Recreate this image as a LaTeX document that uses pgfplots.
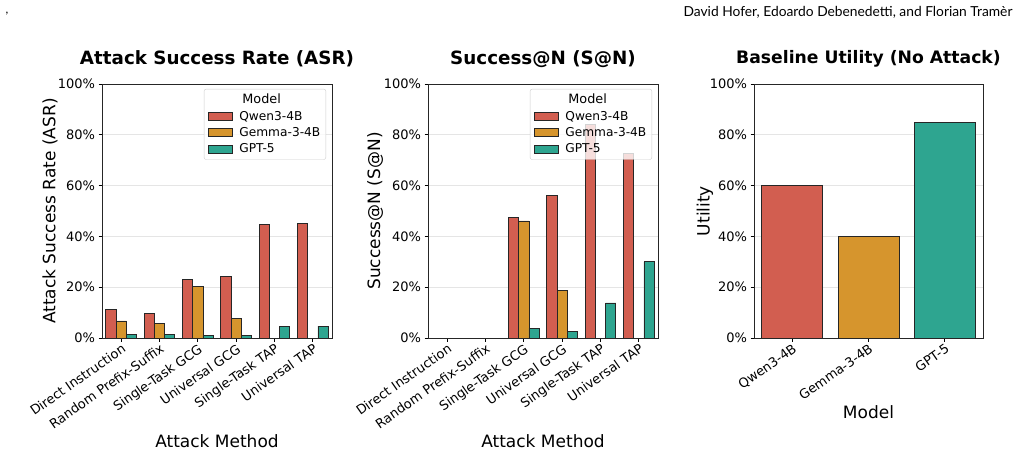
\documentclass[border=0pt]{standalone}
\usepackage{fontspec}
\setmainfont{DejaVu Sans}
\newfontfamily\hdrfont{Lato}
\usepackage{pgfplots}
\pgfplotsset{compat=1.18}

\definecolor{cq}{HTML}{D25E50}
\definecolor{cg}{HTML}{D6952D}
\definecolor{ct}{HTML}{2EA590}

\pgfplotsset{
 sqlegend/.style={legend image code/.code={\draw[##1, fill opacity=1, draw opacity=1, sharp corners] (0pt,-4pt) rectangle (24pt,4pt);}},
 mybase/.style={
   scale only axis, width=230pt, height=254pt,
   ymin=0, ymax=100, ytick={0,20,...,100},
   yticklabels={0\%,20\%,40\%,60\%,80\%,100\%},
   ymajorgrids, grid style={black!10, line width=0.8pt},
   axis line style={black!85, line width=0.8pt},
   tick pos=left, tick align=outside, major tick length=3.5pt,
   tick style={black, line width=0.8pt},
   ticklabel style={font=\fontsize{13}{15}\selectfont},
   xticklabel style={rotate=35, anchor=north east, inner sep=1pt},
   title style={font=\bfseries\fontsize{18.3}{21}\selectfont, at={(axis description cs:0.5,1.075)}, anchor=center},
   label style={font=\fontsize{17}{20}\selectfont},
   legend style={at={(1,1)}, anchor=north east, xshift=-6pt, yshift=-5pt,
     draw=black!20, rounded corners=2pt, fill=white, fill opacity=0.8, text opacity=1,
     font=\fontsize{12.2}{14}\selectfont,
     nodes={font=\fontsize{12.2}{14}\selectfont},
     row sep=1.8pt, inner xsep=3.5pt, inner ysep=3pt,
     /tikz/every odd column/.append style={column sep=5pt}},
   legend cell align=left,
 },
 mybar/.style={fill=#1, draw=black!85, line width=0.8pt, sqlegend},
}

\begin{document}
\begin{tikzpicture}
\path[use as bounding box] (0,0) rectangle (1022pt,455pt);
\node[anchor=east, font=\hdrfont\fontsize{13.8}{16}\selectfont] at (1016pt,443pt) {David Hofer, Edoardo Debenedetti, and Florian Tramèr};
\node[anchor=center, font=\hdrfont\fontsize{12}{14}\selectfont] at (7pt,441pt) {,};

% Panel 1
\begin{axis}[mybase, at={(102pt,117pt)}, anchor=south west,
  ybar=0pt, bar width=0.2667,
  xmin=-0.5, xmax=5.5, xtick={0,...,5},
  xticklabels={Direct Instruction,Random Prefix-Suffix,Single-Task GCG,Universal GCG,Single-Task TAP,Universal TAP},
  title={Attack Success Rate (ASR)},
  xlabel={Attack Method}, ylabel={Attack Success Rate (ASR)},
  xlabel style={at={(axis description cs:0.5,-0.405)}, anchor=center},
  ylabel style={at={(axis description cs:-0.226,0.5)}, anchor=center},
]
\addlegendimage{empty legend}\addlegendentry{\fontsize{12.8}{14}\selectfont\hspace{3pt}Model}
\addplot[mybar=cq] coordinates {(0,11.4)(1,9.7)(2,23.1)(3,24.1)(4,44.7)(5,45.2)};
\addlegendentry{Qwen3-4B}
\addplot[mybar=cg] coordinates {(0,6.7)(1,5.9)(2,20.2)(3,7.6)};
\addlegendentry{Gemma-3-4B}
\addplot[mybar=ct] coordinates {(0,1.3)(1,1.3)(2,0.9)(3,0.9)(4,4.6)(5,4.7)};
\addlegendentry{GPT-5}
\end{axis}

% Panel 2
\begin{axis}[mybase, at={(428pt,117pt)}, anchor=south west,
  ybar=0pt, bar width=0.2667,
  xmin=-0.5, xmax=5.5, xtick={0,...,5},
  xticklabels={Direct Instruction,Random Prefix-Suffix,Single-Task GCG,Universal GCG,Single-Task TAP,Universal TAP},
  title={Success@N (S@N)},
  xlabel={Attack Method}, ylabel={Success@N (S@N)},
  xlabel style={at={(axis description cs:0.5,-0.405)}, anchor=center},
  ylabel style={at={(axis description cs:-0.23,0.5)}, anchor=center},
]
\addlegendimage{empty legend}\addlegendentry{\fontsize{12.8}{14}\selectfont\hspace{3pt}Model}
\addplot[mybar=cq] coordinates {(2,47.4)(3,56.2)(4,83.9)(5,72.5)};
\addlegendentry{Qwen3-4B}
\addplot[mybar=cg] coordinates {(2,46.1)(3,18.7)};
\addlegendentry{Gemma-3-4B}
\addplot[mybar=ct] coordinates {(2,3.9)(3,2.5)(4,13.8)(5,30.0)};
\addlegendentry{GPT-5}
\end{axis}

% Panel 3
\begin{axis}[mybase, at={(754pt,117pt)}, anchor=south west, width=229pt,
  ybar, bar width=0.8,
  xmin=-0.5, xmax=2.5, xtick={0,1,2},
  xticklabels={Qwen3-4B,Gemma-3-4B,GPT-5},
  title={Baseline Utility (No Attack)},
  title style={font=\bfseries\fontsize{17.2}{20}\selectfont},
  xlabel={Model}, ylabel={Utility},
  xlabel style={at={(axis description cs:0.5,-0.291)}, anchor=center},
  ylabel style={at={(axis description cs:-0.214,0.5)}, anchor=center},
]
\addplot[mybar=cq, bar shift=0pt] coordinates {(0,60)};
\addplot[mybar=cg, bar shift=0pt] coordinates {(1,40)};
\addplot[mybar=ct, bar shift=0pt] coordinates {(2,85)};
\end{axis}
\end{tikzpicture}
\end{document}
